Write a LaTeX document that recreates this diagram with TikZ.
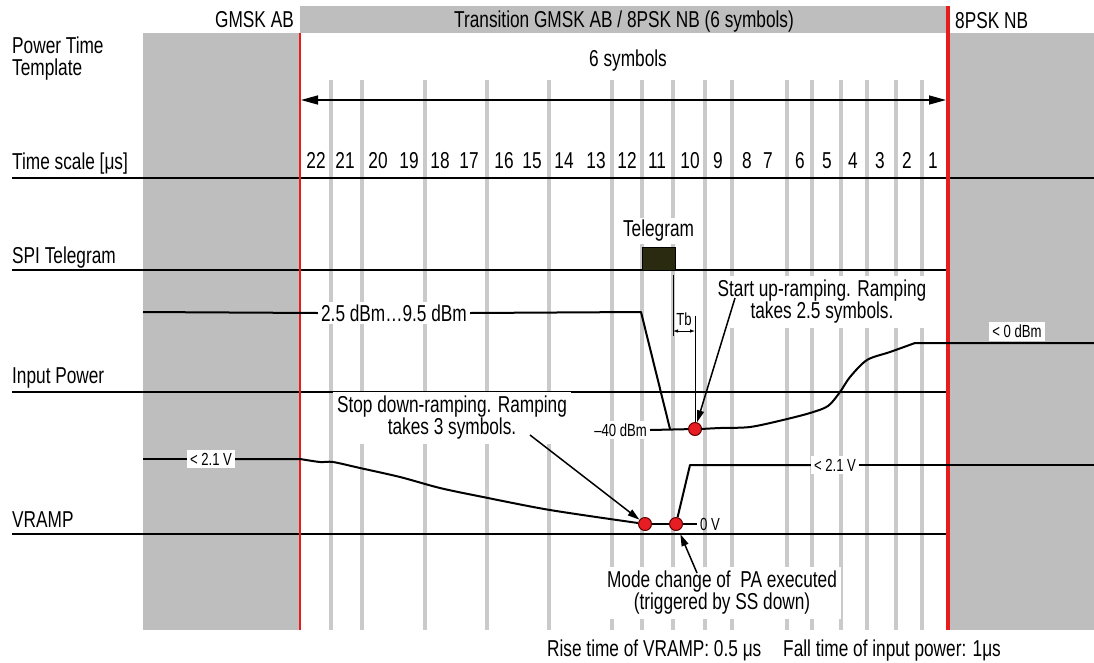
\documentclass[tikz,border=0pt]{standalone}
\usepackage{fontspec}
\setmainfont{Liberation Sans}[FakeStretch=0.75]
\usetikzlibrary{arrows.meta,positioning,calc}

\definecolor{zonegray}{RGB}{190,190,190}
\definecolor{gridgray}{RGB}{202,202,202}
\definecolor{edgered}{RGB}{232,28,28}
\definecolor{dotred}{RGB}{230,30,36}
\definecolor{teleolive}{RGB}{42,42,16}

\tikzset{
  txt/.style={font=\fontsize{23}{22}\selectfont, inner sep=0pt},
  tag/.style={font=\fontsize{17.5}{17}\selectfont, fill=white, inner sep=3pt},
  note/.style={txt, fill=white, align=center, inner sep=4pt},
  rail/.style={line width=2pt},
  trace/.style={line width=2pt, line join=round},
  symline/.style={gridgray, line width=4pt},
  reddot/.style={circle, fill=dotred, draw=black!60!red, line width=1pt, minimum size=13pt, inner sep=0pt},
  pointer/.style={line width=1.5pt, -{Triangle[length=12pt,width=7pt]}},
}

\begin{document}
\begin{tikzpicture}[x=1pt,y=-1pt]
\useasboundingbox (0,0) rectangle (1094,662);

% zones
\fill[zonegray] (300,6) rectangle (948,33);
\fill[zonegray] (143,33) rectangle (300,630);
\fill[zonegray] (948,33) rectangle (1094,630);

% symbol grid
\foreach \gx in {331,362,425,487,549,612,642,673,705,732,787,812,841,867,896,922}
  \draw[symline] (\gx,80) -- (\gx,630);

% header
\node[txt, anchor=base east] (gmsk) at (294,27) {GMSK AB};
\node[txt, anchor=base] (trans) at (624,27) {Transition GMSK AB / 8PSK NB (6 symbols)};
\node[txt, anchor=base west] (psk) at (955,28) {8PSK NB};

% row labels
\node[txt, anchor=base west] (ptt) at (12,53) {Power Time};
\node[txt, anchor=base west] (ptt2) at (12,75) {Template};
\node[txt, anchor=base west] (tscale) at (12,169) {Time scale [μs]};
\node[txt, anchor=base west] (spi) at (12,263) {SPI Telegram};
\node[txt, anchor=base west] (inpow) at (12,383) {Input Power};
\node[txt, anchor=base west] (vramp) at (12,527) {VRAMP};

% rails
\draw[rail] (12,178) -- (1094,178);
\draw[rail] (12,270) -- (948,270);
\draw[rail] (12,392) -- (948,392);
\draw[rail] (12,534) -- (948,534);

% time scale
\foreach \num/\nx in {22/316,21/345,20/378,19/409,18/440,17/469,16/504,15/532,14/564,13/596,12/627,11/657,10/690,9/718,8/747,7/768,6/800,5/827,4/853,3/880,2/907,1/933}
  \node[txt, anchor=base] at (\nx,168) {\num};

\node[txt, anchor=base] (sixsym) at (628,66) {6 symbols};

% boundaries
\draw[edgered, line width=2pt] (300,33) -- (300,630);
\draw[edgered, line width=4pt] (948,6) -- (948,630);
\draw[line width=1.5pt, {Triangle[length=17pt,width=9pt]}-{Triangle[length=17pt,width=9pt]}] (301,100) -- (946,100);

% SPI telegram
\node[draw=black, fill=teleolive, minimum width=33pt, minimum height=23pt, inner sep=0pt] (tgram) at (658.5,258.5) {};
\node[txt, fill=white, inner sep=2pt, above=3pt of tgram] (tglabel) {Telegram};

% markers
\node[reddot] (ipdot) at (695,429) {};
\node[reddot] (vdot1) at (645,524) {};
\node[reddot] (vdot2) at (676,524) {};

% input power
\node[txt, fill=white, inner sep=3pt] (pwrrange) at (394,313) {2.5 dBm…9.5 dBm};
\node[tag, anchor=east] (m40) at (650,430) {–40 dBm};
\node[tag, anchor=south] (zerodbm) at (1017,341) {< 0 dBm};
\draw[trace] (143,312) -- (pwrrange.west);
\draw[trace] (pwrrange.east) -- (641,312) -- (670,429);
\draw[trace] (m40.east) -- (ipdot);
\draw[trace] plot[smooth, tension=0.5] coordinates {(701,429) (720,428) (750,427) (783,420) (810,413) (828,406) (840,392) (850,377) (867,360) (890,352) (915,343)} -- (1094,343);

% Tb
\coordinate (tbleft) at (673,275);
\coordinate (tbright) at (695,316);
\draw[line width=1pt] (tbleft) -- ++(0,61);
\draw[line width=1pt] (tbright) -- (ipdot);
\draw[line width=0.8pt, {Latex[length=5pt,width=3.5pt]}-{Latex[length=5pt,width=3.5pt]}] (673,331) -- (695,331);
\node[tag, fill=none, inner sep=0pt] (tb) at (684,319) {Tb};

% VRAMP
\node[tag] (v21a) at (211,459) {< 2.1 V};
\node[tag] (v21b) at (835,465) {< 2.1 V};
\node[tag, fill=none, anchor=west] (zerov) at (697,524) {0 V};
\draw[trace] (143,459) -- (v21a.west);
\draw[trace] (v21a.east) -- (300,459) plot[smooth, tension=0.5] coordinates {(300,459) (320,462) (333,462) (360,468) (400,477) (440,488) (483,497) (550,510) (638,523)};
\draw[trace] (vdot1) -- (vdot2) -- (zerov.west);
\draw[trace] (vdot2) -- (690,465) -- (v21b.west);
\draw[trace] (v21b.east) -- (1094,465);

% notes
\node[note] (stopnote) at (452,418) {Stop down-ramping. Ramping\\takes 3 symbols.};
\node[note] (startnote) at (822,302) {Start up-ramping. Ramping\\takes 2.5 symbols.};
\node[note] (modenote) at (722,593) {Mode change of \ PA executed\\(triggered by SS down)};
\coordinate (stoptail) at (530,435);
\coordinate (starttail) at (735,298);
\coordinate (modetail) at (697,573);
\draw[pointer] (stoptail) -- (vdot1);
\draw[pointer] (starttail) -- (ipdot);
\draw[pointer, shorten >=4pt] (modetail) -- (vdot2);

% timing
\node[txt, anchor=base west] (risetime) at (547,656) {Rise time of VRAMP: 0.5 μs};
\node[txt, anchor=base west] (falltime) at (783,656) {Fall time of input power: 1μs};
\end{tikzpicture}
\end{document}
